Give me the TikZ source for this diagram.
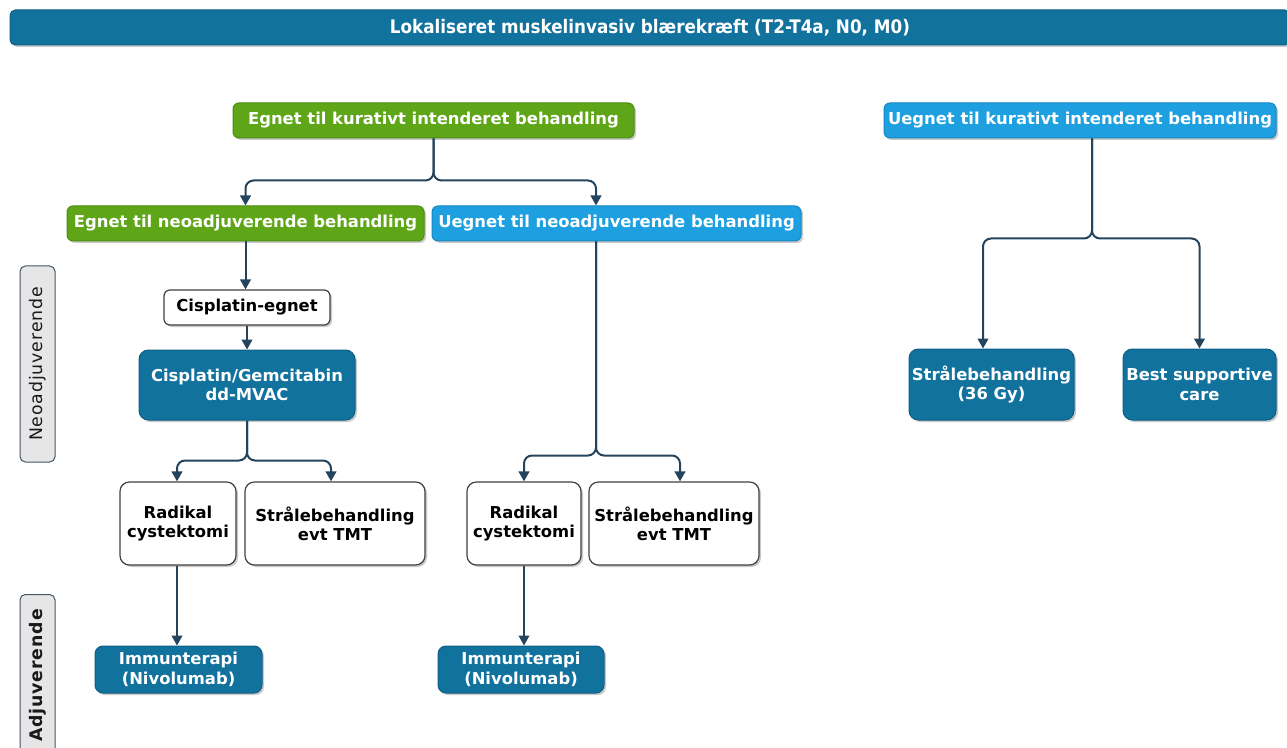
\documentclass[tikz,border=0pt]{standalone}
\usepackage{fontspec}
\setmainfont{DejaVu Sans}
\newfontfamily\condfont{DejaVu Sans Condensed}
\newfontfamily\spacedfont[LetterSpace=5]{DejaVu Sans}
\usetikzlibrary{arrows.meta,shadows,calc}
\definecolor{dblue}{RGB}{18,114,158}
\definecolor{dbluebd}{RGB}{14,95,135}
\definecolor{gfill}{RGB}{94,166,23}
\definecolor{gbd}{RGB}{76,140,16}
\definecolor{lblue}{RGB}{30,160,224}
\definecolor{lbluebd}{RGB}{20,135,195}
\definecolor{arr}{RGB}{36,68,94}
\definecolor{lgray}{RGB}{230,230,230}
\definecolor{lgraybd}{RGB}{70,85,100}
\tikzset{
  box/.style={rounded corners=4.5pt, inner sep=0pt, align=center, font=\fontsize{12.3}{14.5}\selectfont\bfseries,
    drop shadow={shadow xshift=1.5pt, shadow yshift=-1.5pt, fill=black!35, opacity=0.6}},
  greenbox/.style={box, fill=gfill, draw=gbd, line width=0.75pt, text=white},
  lbluebox/.style={box, fill=lblue, draw=lbluebd, line width=0.75pt, text=white},
  dbluebox/.style={box, fill=dblue, draw=dbluebd, line width=0.75pt, text=white},
  whitebox/.style={box, fill=white, draw=black!75, line width=0.9pt, text=black},
  sidelabel/.style={rounded corners=4pt, fill=lgray, draw=lgraybd, line width=0.75pt, inner sep=0pt,
    rotate=90, font=\spacedfont\fontsize{13}{15}\selectfont, text=black!90},
  conn/.style={draw=arr, line width=1.5pt, rounded corners=6pt, -{Triangle[length=7.5pt,width=8pt]}},
}
\begin{document}
\begin{tikzpicture}[x=0.75pt,y=-0.75pt]
\useasboundingbox (0,0) rectangle (1287,748);
% title
\node[dbluebox, rounded corners=4pt, minimum width=1280*0.75pt, minimum height=35*0.75pt,
  font=\condfont\fontsize{14}{16}\selectfont\bfseries] (title) at (650,27.5) {Lokaliseret muskelinvasiv blærekræft (T2-T4a, N0, M0)};
% level 1
\node[greenbox, minimum width=401*0.75pt, minimum height=35*0.75pt] (g1) at (433.5,120.5) {Egnet til kurativt intenderet behandling};
\node[lbluebox, minimum width=392*0.75pt, minimum height=35*0.75pt] (b1) at (1080,120.5) {Uegnet til kurativt intenderet behandling};
% level 2
\node[greenbox, minimum width=357*0.75pt, minimum height=35*0.75pt] (g2) at (245.5,223.5) {Egnet til neoadjuverende behandling};
\node[lbluebox, minimum width=369*0.75pt, minimum height=35*0.75pt] (b2) at (616.5,223.5) {Uegnet til neoadjuverende behandling};
% left column
\node[whitebox, minimum width=166*0.75pt, minimum height=35*0.75pt] (ce) at (247,307.5) {Cisplatin-egnet};
\node[dbluebox, minimum width=216*0.75pt, minimum height=70*0.75pt, rounded corners=7pt] (cg) at (247,385) {Cisplatin/Gemcitabin\\dd-MVAC};
\node[whitebox, minimum width=116*0.75pt, minimum height=83*0.75pt, rounded corners=7pt] (rc1) at (178,523.5) {Radikal\\cystektomi};
\node[whitebox, minimum width=180*0.75pt, minimum height=83*0.75pt, rounded corners=7pt] (sb1) at (335,523.5) {Strålebehandling\\evt TMT};
\node[whitebox, minimum width=114*0.75pt, minimum height=83*0.75pt, rounded corners=7pt] (rc2) at (524,523.5) {Radikal\\cystektomi};
\node[whitebox, minimum width=170*0.75pt, minimum height=83*0.75pt, rounded corners=7pt] (sb2) at (674,523.5) {Strålebehandling\\evt TMT};
\node[dbluebox, minimum width=167*0.75pt, minimum height=47*0.75pt, rounded corners=6pt] (im1) at (178.5,669.5) {Immunterapi\\(Nivolumab)};
\node[dbluebox, minimum width=166*0.75pt, minimum height=47*0.75pt, rounded corners=6pt] (im2) at (521,669.5) {Immunterapi\\(Nivolumab)};
% right column
\node[dbluebox, minimum width=165*0.75pt, minimum height=71*0.75pt, rounded corners=7pt] (sb3) at (991.5,384.5) {Strålebehandling\\(36 Gy)};
\node[dbluebox, minimum width=153*0.75pt, minimum height=71*0.75pt, rounded corners=7pt] (bsc) at (1199.5,384.5) {Best supportive\\care};
% side labels
\node[sidelabel, minimum width=196*0.75pt, minimum height=35*0.75pt] (neo) at (37.5,364) {Neoadjuverende};
\node[sidelabel, minimum width=162*0.75pt, minimum height=35*0.75pt, anchor=east, font=\spacedfont\fontsize{13}{15}\selectfont\bfseries] (adj) at (37.5,594) {Adjuverende};
% connectors
\coordinate (j1) at ($(g1.south)+(0,42)$);
\draw[conn] (g1.south) -- (j1) -| (g2.north);
\draw[conn] (g1.south) -- (j1) -| ($(b2.north)+(-20.5,0)$);
\draw[conn] (g2.south) -- (g2.south |- ce.north);
\draw[conn] (ce.south) -- (cg.north);
\coordinate (j2) at ($(cg.south)+(0,40)$);
\draw[conn] (cg.south) -- (j2) -| ($(rc1.north)+(-1,0)$);
\draw[conn] (cg.south) -- (j2) -| ($(sb1.north)+(-4,0)$);
\coordinate (b2o) at ($(b2.south)+(-20.5,0)$);
\coordinate (j3) at ($(b2o)+(0,214)$);
\draw[conn] (b2o) -- (j3) -| (rc2.north);
\draw[conn] (b2o) -- (j3) -| ($(sb2.north)+(6,0)$);
\draw[conn] ($(rc1.south)+(-1,0)$) -- ($(rc1.south |- im1.north)+(-1,0)$);
\draw[conn] (rc2.south) -- (rc2.south |- im2.north);
\coordinate (b1o) at ($(b1.south)+(12,0)$);
\coordinate (j4) at ($(b1o)+(0,100)$);
\draw[conn] (b1o) -- (j4) -| ($(sb3.north)+(-8.5,0)$);
\draw[conn] (b1o) -- (j4) -| (bsc.north);
\end{tikzpicture}
\end{document}
